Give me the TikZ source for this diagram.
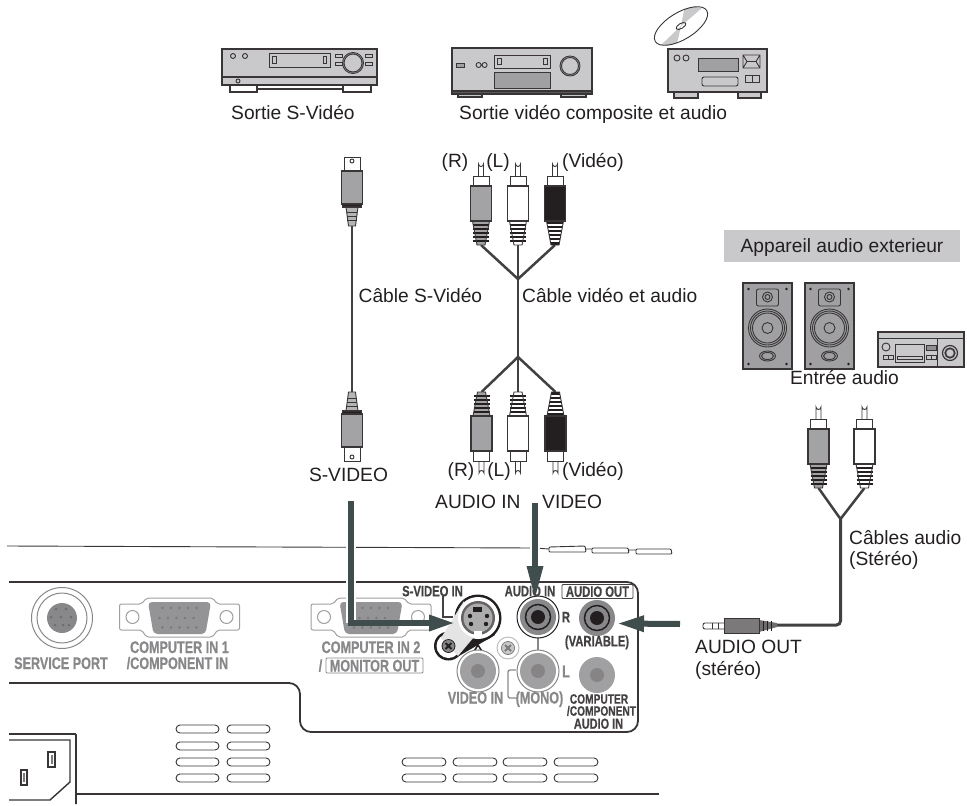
\documentclass[tikz,border=0pt]{standalone}
\usepackage{fontspec}
\setmainfont{Liberation Sans}
\newfontfamily\panelfont[FakeStretch=0.75,FakeBold=0.6]{Liberation Sans}
\usetikzlibrary{arrows.meta}

\definecolor{inkcol}{HTML}{231F20}
\definecolor{cablecol}{HTML}{414042}
\definecolor{arrowcol}{HTML}{3F4D4D}
\definecolor{devcol}{HTML}{C9C9CB}
\definecolor{darkcol}{HTML}{A0A0A2}
\definecolor{plugcol}{HTML}{A3A3A5}
\definecolor{portcol}{HTML}{88888A}

\tikzset{
  lbl/.style = {font=\fontsize{19.2}{23}\selectfont, text=inkcol, inner sep=0pt, text height=13.8pt, text depth=0pt},
  plbl/.style = {font=\panelfont\bfseries\fontsize{16.8}{19}\selectfont, text=portcol, inner sep=0pt, text height=12pt, text depth=0pt},
  pdark/.style = {font=\panelfont\bfseries\fontsize{15}{18}\selectfont, text=inkcol!85, inner sep=0pt, text height=10.6pt, text depth=0pt},
  psmall/.style = {pdark, font=\panelfont\bfseries\fontsize{13.6}{16}\selectfont, text height=9.4pt},
  dev/.style = {draw=inkcol!90, line width=1.2pt},
  thin line/.style = {draw=inkcol!90, line width=.9pt},
  panel/.style = {draw=inkcol!90, line width=1.8pt},
  cable/.style = {draw=cablecol, line width=2.5pt},
  bigarrow/.style = {draw=arrowcol, line width=6pt, -{Triangle[length=#1,width=15pt]}},
  vent/.style = {draw=inkcol!90, line width=.9pt, rounded corners=4pt},
  % plug on phono lead, local origin where the lead comes in
  pics/rca/.style 2 args = {code={
    \fill[#1] (-4,0) -- (-8.5,-24) -- (8.5,-24) -- (4,0) -- cycle;
    \foreach \r in {-4,-8,-12,-16,-20} \draw[#2,line width=1.1pt] (-8,\r) -- (8,\r);
    \draw[thin line] (-4,0) -- (-8.5,-24) -- (8.5,-24) -- (4,0) -- cycle;
    \draw[thin line,fill=white] (-2.5,-68) -- (-2.5,-81) arc (180:0:2.5) -- (2.5,-68);
    \draw[thin line,fill=white] (-8,-59) rectangle (8,-69);
    \draw[dev,fill=#1] (-10.5,-24) rectangle (10.5,-59);
  }},
  pics/svideoplug/.style = {code={
    \draw[thin line,fill=plugcol!80] (-3.5,0) -- (-6,-19) -- (6,-19) -- (3.5,0) -- cycle;
    \foreach \r in {-6,-10,-14} \draw[thin line] (-5,\r) -- (5,\r);
    \draw[thin line,fill=white] (-8,-55) rectangle (8,-69);
    \draw[thin line] (0,-65) circle (2);
    \draw[dev,fill=inkcol] (-9.5,-19) rectangle (9.5,-22);
    \draw[dev,fill=plugcol] (-10.5,-22) rectangle (10.5,-55);
  }},
  % rear panel pieces
  pics/vgaport/.style = {code={
    \draw[draw=darkcol,line width=1pt,rounded corners=2pt,fill=white] (-60,-14) -- (-38,-14) -- (-33,-20) -- (33,-20) -- (38,-14) -- (60,-14) -- (60,12) -- (38,12) -- (33,19) -- (-33,19) -- (-38,12) -- (-60,12) -- cycle;
    \draw[draw=darkcol,line width=1pt] (-47,-1) circle (6.5) (47,-1) circle (6.5);
    \fill[portcol!90,rounded corners=4pt] (-31.5,-16) -- (31.5,-16) -- (26,16) -- (-26,16) -- cycle;
    \foreach \px in {-17,-8.5,0,8.5,17} {
      \fill[inkcol!60] (\px,-10) circle (1.4) (\px-3,0) circle (1.4) (\px,9.5) circle (1.4);
    }
  }},
  pics/jack/.style n args = {4}{code={
    \draw[draw=#1,line width=1pt,fill=white] (0,0) circle (21);
    \fill[#2] (0,0) circle (18);
    \draw[draw=#3,line width=1.5pt] (0,0) circle (12.5);
    \fill[#4] (0,0) circle (7);
  }},
  pics/screw/.style 2 args = {code={
    \draw[draw=#2,line width=.8pt,fill=#1] (0,0) circle (6.5);
    \draw[#2,line width=2pt] (-3,-3) -- (3,3) (-3,3) -- (3,-3);
  }},
  pics/speaker/.style = {code={
    \draw[dev,fill=darkcol] (-24.5,-43) rectangle (24.5,43);
    \draw[thin line,rounded corners=2pt] (-11,-37) rectangle (11,-20);
    \draw[thin line] (0,-29) circle (5) (0,-29) circle (2.5);
    \draw[thin line] (0,2) circle (19) (0,2) circle (17) (0,2) circle (15) (0,2) circle (5.5);
    \draw[thin line] (0,30) ellipse (8 and 5) (0,30) ellipse (6 and 3.5);
    \foreach \sx in {-19,19} \foreach \sy in {-37,38} \fill[inkcol] (\sx,\sy) circle (1.4);
  }},
}

\begin{document}
\begin{tikzpicture}[x=1pt,y=-1pt]
\useasboundingbox (0,0) rectangle (967,806);

%source devices
\draw[dev,fill=white] (230,85) rectangle (257,92) (343,85) rectangle (371,92);
\draw[dev] (257,89) -- (343,89);
\draw[dev,fill=devcol] (222,49) rectangle (377,85);
\draw[dev] (222,77) -- (377,77);
\draw[thin line] (233,56) circle (2.5) (245,56) circle (2.5) (238,81) circle (2);
\draw[thin line] (269,53) rectangle (330,67) (272,56) rectangle (276,63) (323,56) rectangle (326,63);
\draw[thin line] (335,54) rectangle (342,57.5) (335,62) rectangle (342,65) (365,54) rectangle (372,57.5) (365,62) rectangle (372,65);
\draw[thin line] (353,63) circle (10.5) (353,63) circle (9);

\draw[dev,fill=devcol] (458,91) rectangle (482,97) (561,91) rectangle (586,97);
\draw[dev,fill=devcol] (452,48) rectangle (592,91);
\draw[dev,fill=inkcol!75] (452,91) rectangle (592,94);
\draw[thin line,fill=darkcol] (456,63) rectangle (464,67);
\draw[thin line] (478.6,65) circle (2.5) (484.6,65) circle (2.5);
\draw[thin line] (494.6,55) rectangle (550,68) (497.5,58) rectangle (501,64) (543.6,58) rectangle (547,64);
\draw[thin line,fill=darkcol] (494.6,72) rectangle (550,88);
\draw[thin line] (570,66) circle (10) (570,66) circle (8.5);

\begin{scope}
\clip[rotate around={31:(681,26)}] (681,26) ellipse (30 and 13.5);
\fill[devcol] (681,26) -- (685,5) -- (702,8) -- cycle (681,26) -- (660,46) -- (676,48) -- cycle;
\end{scope}
\draw[thin line,rotate around={31:(681,26)}] (681,26) ellipse (30 and 13.5) (681,26) ellipse (5.5 and 2.5);
\draw[dev,fill=devcol] (674,92) rectangle (698,98) (738,92) rectangle (761,98);
\draw[dev,fill=devcol] (668,49) rectangle (767,92);
\draw[thin line] (677,58) circle (3) (686,58) circle (3);
\draw[thin line,fill=darkcol] (698,58) rectangle (738,71);
\draw[thin line,rounded corners=2pt] (702,77) rectangle (738,86);
\draw[thin line] (743,55) rectangle (760,68) (743,55) -- (747,61.5) -- (743,68) (760,55) -- (756,61.5) -- (760,68) (747,61.5) -- (756,61.5);
\draw[thin line] (745,75) rectangle (759,82) (752,75) -- (752,82);

\node[lbl,anchor=west] (svidout) at (231,113) {Sortie S-Vidéo};
\node[lbl,anchor=west] (compout) at (459,113) {Sortie vidéo composite et audio};

%video leads
\coordinate (svidA) at (352,226);
\coordinate (svidB) at (352,392);
\coordinate (joinA) at (518,279);
\coordinate (joinB) at (518,357);
\coordinate (rcaRa) at (481,245);
\coordinate (rcaLa) at (518,245);
\coordinate (rcaVa) at (555,245);
\coordinate (rcaRb) at (481.5,392);
\coordinate (rcaLb) at (518,392);
\coordinate (rcaVb) at (555.5,392);

\draw[cable] (svidA) -- (svidB);
\draw[cable] (rcaLa) -- (rcaLb);
\draw[cable] (rcaRa) -- (joinA) -- (rcaVa);
\draw[cable] (rcaRb) -- (joinB) -- (rcaVb);

\pic at (svidA) {svideoplug};
\pic[yscale=-1] at (svidB) {svideoplug};
\pic at (rcaRa) {rca={plugcol}{inkcol}};
\pic at (rcaLa) {rca={white}{inkcol}};
\pic at (rcaVa) {rca={inkcol}{white}};
\pic[yscale=-1] at (rcaRb) {rca={plugcol}{inkcol}};
\pic[yscale=-1] at (rcaLb) {rca={white}{inkcol}};
\pic[yscale=-1] at (rcaVb) {rca={inkcol}{white}};

\node[lbl] (topR) at (455,161) {(R)};
\node[lbl] (topL) at (498,161) {(L)};
\node[lbl,anchor=west] (topV) at (562,161) {(Vidéo)};
\node[lbl,anchor=west] (svidcab) at (358.5,296) {Câble S-Vidéo};
\node[lbl,anchor=west] (compcab) at (522,296) {Câble vidéo et audio};
\node[lbl] (svidname) at (348.5,475) {S-VIDEO};
\node[lbl] (botR) at (461,470) {(R)};
\node[lbl] (botL) at (499,470) {(L)};
\node[lbl,anchor=west] (botV) at (562,470) {(Vidéo)};
\node[lbl,anchor=west] (audioin) at (435,502) {AUDIO IN};
\node[lbl,anchor=west] (videoin) at (542,502) {VIDEO};

%audio equipment
\node[lbl,fill=devcol,minimum width=236pt,minimum height=32pt,text height=13.8pt] (extbox) at (842,246) {Appareil audio exterieur};
\pic at (767.5,326) {speaker};
\pic at (829.5,326) {speaker};
\draw[dev,fill=devcol] (878,332) rectangle (964,367);
\draw[thin line] (878,338) -- (964,338) (937,338) -- (937,367);
\draw[dev] (950,353) circle (7.5);
\draw[dev,fill=inkcol!70] (950,353) circle (5) ;
\fill[devcol] (950,353) circle (3.5);
\draw[thin line] (886,347) circle (4);
\draw[thin line] (895,344) rectangle (924,362) (897,356) rectangle (922,359);
\draw[thin line] (883,355) rectangle (893,359) (888,355) -- (888,359) (926,355) rectangle (936,359) (931,355) -- (931,359);
\draw[thin line,fill=inkcol!50] (926,345) rectangle (936,350);
\node[lbl] (entree) at (844.5,378) {Entrée audio};

\coordinate (audL) at (818.5,488);
\coordinate (audR) at (864.5,488);
\coordinate (joinC) at (840.5,519);
\coordinate (elbow) at (840.5,625);
\coordinate (jackend) at (777,625);
\draw[cable] (audL) -- (joinC) -- (audR);
\draw[cable,line width=3pt,rounded corners=4pt] (joinC) -- (elbow) -- (jackend);
\pic at (audL) {rca={plugcol}{inkcol}};
\pic at (audR) {rca={white}{inkcol}};
\draw[thin line,fill=white,rounded corners=2pt] (724,623) -- (703,623) -- (703,629) -- (724,629);
\draw[thin line] (712,623) -- (712,629) (718,623) -- (718,629);
\fill[inkcol!65] (759,620) -- (777,623) -- (777,627) -- (759,632) -- cycle;
\foreach \r in {763,767,771} \draw[inkcol,line width=1pt] (\r,620.5) -- (\r,631);
\draw[thin line,fill=inkcol!60] (724,618) rectangle (759,633);
\node[lbl,anchor=west] (audcab) at (849,538) {Câbles audio};
\node[lbl,anchor=west] (stereocab) at (849,559) {(Stéréo)};
\node[lbl,anchor=west] (audout) at (695,647) {AUDIO OUT};
\node[lbl,anchor=west] (stereoout) at (695,669) {(stéréo)};

%projector outline
\draw[thin line] (7,546) -- (535,548) -- (549,549);
\draw[thin line,rounded corners=1pt] (549,552) -- (549,547) -- (585,546) -- (586,552) -- cycle (586,549) -- (592,549) (592,553) -- (592,548) -- (628,548) -- (629,553) -- cycle (629,550) -- (636,550) (636,554) -- (636,549) -- (671,549) -- (672,554) -- cycle;
\draw[panel,rounded corners=11pt] (9,582) -- (638,582) -- (638,732) -- (300,732) -- (300,683) -- (9,683);
\draw[panel] (76,794) -- (659,794);
\draw[panel,rounded corners=1pt] (9,734) -- (76,734) -- (76,804);
\draw[panel,line width=1.4pt] (9,740) -- (70,740) -- (70,782) -- (50,800) -- (9,800);
\draw[panel,line width=1.4pt] (48,752) rectangle (55,767) (21,770) rectangle (27,785);
\draw[line width=2pt,inkcol!60] (51.5,755) -- (51.5,764) (24,773) -- (24,782);

\foreach \vy in {729,746,762,778} \foreach \vx in {176,227} \draw[vent] (\vx,\vy-4) rectangle (\vx+43,\vy+4);
\foreach \vy in {762,778} \foreach \vx in {402,453,503,554} \draw[vent] (\vx,\vy-4) rectangle (\vx+44,\vy+4);

%ports
\draw[portcol,line width=1pt] (62,618) circle (30.5) (62,618) circle (25);
\fill[portcol] (62,618) circle (15);
\foreach \px/\py in {-6/-9,4/-9,-11/-1,-1/-1,9/-1,-7/7,1/7,7/7} \fill[inkcol!65] (62+\px,618+\py) circle (1.5);
\pic at (179.5,618) {vgaport};
\pic at (371,618) {vgaport};

\node[plbl] (svcport) at (61,663) {SERVICE PORT};
\node[plbl] (compone) at (179.5,647) {COMPUTER IN 1};
\node[plbl] (compcomp) at (177.5,663) {/COMPONENT IN};
\node[plbl] (comptwo) at (371,647) {COMPUTER IN 2};
\node[plbl] (slash) at (320.5,665.5) {/};
\node[plbl,draw=portcol,line width=.9pt,rounded corners=1pt,minimum width=97pt,minimum height=15pt] (monout) at (374.5,665.5) {MONITOR OUT};

\fill[inkcol] (478,618) circle (23.5) (448.5,646) circle (14.5);
\fill[inkcol] (494,601) -- (461,635) -- (438,656) -- (459,656) -- (495,635) -- cycle;
\fill[white] (478,618) circle (21) (448.5,646) circle (12);
\fill[devcol!50] (464,601) -- (466,630) -- (474,637) -- (458,656) -- (441,638) -- cycle;
\fill[white] (478,618) circle (20);
\fill[inkcol!70] (478,618) circle (17);
\fill[portcol!70] (478,618) circle (14.5);
\fill[inkcol] (473,607) rectangle (482,612);
\foreach \px/\py in {470/616,487/616,471/624,486/624} \fill[inkcol] (\px,\py) circle (2.2);
\fill[white] (474,631) rectangle (482,635.5);
\pic at (448.5,646) {screw={portcol}{inkcol}};
\draw[inkcol,line width=1.5pt,fill=white] (478,645) -- (474.5,650.5) -- (481.5,650.5) -- cycle;
\draw[inkcol!85,line width=1.4pt] (443,596) -- (443,617) -- (453,617);
\draw[draw=portcol!60,line width=.9pt] (508,648) circle (11);
\pic at (508,648) {screw={devcol}{inkcol!60}};
\draw[portcol,line width=1.4pt] (538,638) -- (538,652);

\pic at (538,617) {jack={inkcol}{portcol}{inkcol}{inkcol}};
\pic at (597,618) {jack={white}{portcol}{inkcol}{inkcol}};
\pic at (478,671) {jack={portcol}{darkcol}{portcol!80}{inkcol!55}};
\pic at (538,671) {jack={portcol}{darkcol}{portcol!80}{inkcol!55}};
\pic at (597,675) {jack={white}{darkcol}{portcol!80}{inkcol!55}};

\node[pdark] (svidin) at (432.5,591) {S-VIDEO IN};
\node[pdark] (audin) at (530,591) {AUDIO IN};
\node[pdark,draw=inkcol!85,line width=.9pt,rounded corners=1pt,minimum width=71pt,minimum height=14pt] (audoutbox) at (597.5,591.5) {AUDIO OUT};
\node[pdark] (portR) at (566,617) {R};
\node[plbl,text height=10.6pt] (portL) at (566,672) {L};
\node[pdark] (variable) at (597,641) {(VARIABLE)};
\node[plbl,text height=11pt] (vidin) at (475.5,698) {VIDEO IN};
\node[plbl,text height=11pt] (mono) at (539.5,698) {(MONO)};
\draw[portcol,line width=1.3pt,rounded corners=2pt] (516,670) -- (508,670) -- (508,698) -- (517,698);
\node[psmall] (compa) at (599,699) {COMPUTER};
\node[psmall] (compb) at (601.5,711) {/COMPONENT};
\node[psmall,font=\panelfont\bfseries\fontsize{14.6}{16}\selectfont] (compc) at (598.5,724) {AUDIO IN};

%plug-in arrows
\coordinate (svidfrom) at (351,501);
\coordinate (svidturn) at (351,623);
\coordinate (svidto) at (455,623);
\coordinate (compfrom) at (535,503);
\coordinate (compto) at (535,600);
\coordinate (audfrom) at (680,624);
\coordinate (audto) at (617,623.5);
\draw[draw=white,line width=10pt] (svidfrom) -- (svidturn);
\draw[draw=white,line width=10pt] (compfrom) -- (535,560);
\draw[bigarrow=26pt] (svidfrom) -- (svidturn) -- (svidto);
\draw[bigarrow=34pt] (compfrom) -- (compto);
\draw[bigarrow=27pt] (audfrom) -- (audto);
\end{tikzpicture}
\end{document}
